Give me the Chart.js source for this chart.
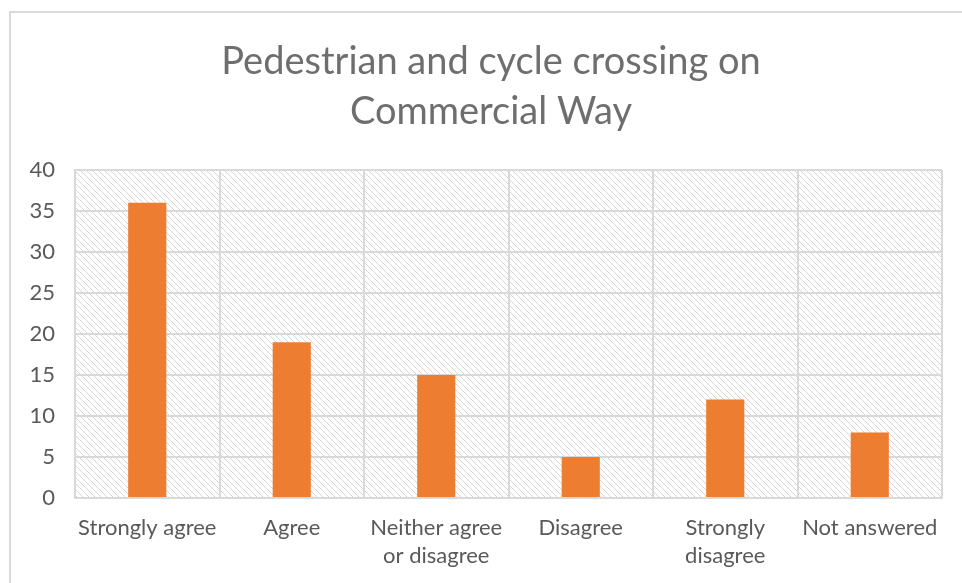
<!DOCTYPE html>
<html>
<head>
<meta charset="utf-8">
<title>Pedestrian and cycle crossing on Commercial Way</title>
<script src="https://cdn.jsdelivr.net/npm/chart.js@4/dist/chart.umd.min.js"></script>
<style>
  html, body { margin: 0; padding: 0; background: #fff; }
  #wrap { width: 962px; height: 583px; position: relative; }
</style>
</head>
<body>
<div id="wrap"><canvas id="chart"></canvas></div>
<script>
// data
const titleLines = ['Pedestrian and cycle crossing on', 'Commercial Way'];
const categories = [
  'Strongly agree',
  'Agree',
  ['Neither agree', 'or disagree'],
  'Disagree',
  ['Strongly', 'disagree'],
  'Not answered'
];
const responses = [36, 19, 15, 5, 12, 8];
const yTicks = [0, 5, 10, 15, 20, 25, 30, 35, 40];

const grey = '#595959';
const gridGrey = '#d9d9d9';

// small diagonal hatch for the plot background
function makeHatch() {
  const c = document.createElement('canvas');
  c.width = 6; c.height = 6;
  const g = c.getContext('2d');
  g.strokeStyle = '#d6d6d6';
  g.lineWidth = 1;
  g.beginPath();
  g.moveTo(-1, -1); g.lineTo(7, 7);
  g.moveTo(-1, 5); g.lineTo(1, 7);
  g.moveTo(5, -1); g.lineTo(7, 1);
  g.stroke();
  return g.createPattern(c, 'repeat');
}

const backdrop = {
  id: 'backdrop',
  beforeDraw(chart) {
    const ctx = chart.ctx;
    const a = chart.chartArea;
    ctx.save();
    // outer frame (only top and left visible in the crop)
    ctx.strokeStyle = gridGrey;
    ctx.lineWidth = 2;
    ctx.beginPath();
    ctx.moveTo(10, 583);
    ctx.lineTo(10, 12);
    ctx.lineTo(962, 12);
    ctx.stroke();
    // hatched plot area
    ctx.fillStyle = makeHatch();
    ctx.fillRect(a.left, a.top, a.right - a.left, a.bottom - a.top);
    ctx.restore();
  },
  afterDraw(chart) {
    // title, centred on the frame rather than the canvas
    const ctx = chart.ctx;
    ctx.save();
    ctx.fillStyle = '#6e6e6e';
    ctx.font = '38px Lato';
    ctx.textAlign = 'center';
    ctx.textBaseline = 'alphabetic';
    titleLines.forEach((t, i) => ctx.fillText(t, 491, 74 + i * 50));
    ctx.restore();
  }
};

new Chart(document.getElementById('chart'), {
  type: 'bar',
  data: {
    labels: categories,
    datasets: [{
      data: responses,
      backgroundColor: '#ED7D31',
      borderWidth: 0,
      barPercentage: 0.6,
      categoryPercentage: 0.44
    }]
  },
  options: {
    responsive: true,
    maintainAspectRatio: false,
    animation: false,
    layout: { padding: { top: 170, right: 20, bottom: 0, left: 0 } },
    plugins: {
      legend: { display: false },
      tooltip: { enabled: false },
      title: { display: false }
    },
    scales: {
      x: {
        afterFit(scale) { scale.height = 85; },
        grid: { color: gridGrey, lineWidth: 2, drawTicks: false, offset: true },
        border: { color: gridGrey, width: 2 },
        ticks: {
          color: grey,
          font: { family: 'Lato', size: 22, lineHeight: 1.27 },
          padding: 16,
          maxRotation: 0,
          autoSkip: false
        }
      },
      y: {
        min: 0,
        max: 40,
        afterBuildTicks(scale) {
          scale.ticks = yTicks.map(v => ({ value: v }));
        },
        afterFit(scale) { scale.width = 75; },
        grid: { color: gridGrey, lineWidth: 2, drawTicks: false },
        border: { color: gridGrey, width: 2 },
        ticks: {
          color: grey,
          font: { family: 'Lato', size: 22 },
          padding: 20
        }
      }
    }
  },
  plugins: [backdrop]
});
</script>
</body>
</html>
